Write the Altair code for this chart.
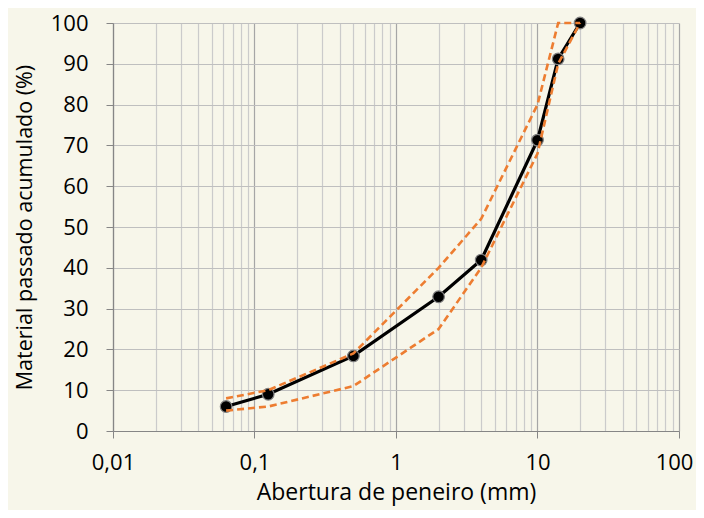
import altair as alt
import pandas as pd

# Sieve openings (mm) and cumulative passing (%)
sieve = [0.063, 0.125, 0.5, 2, 4, 10, 14, 20]
passed = [6.0, 9.0, 18.4, 32.9, 41.9, 71.3, 91.2, 100.0]
# Grading envelope limits (%)
upper = [8, 10, 19, 40, 52, 80, 100, 100]
lower = [5, 6, 11, 25, 40, 68, 90, 100]

decades = [0.01, 0.1, 1, 10, 100]
x_ticks = [round(d * m, 6) for d in decades[:-1] for m in range(1, 10)] + [100]
y_ticks = list(range(0, 101, 10))

FONT = "Open Sans"
BG = "#f7f6ea"

df_main = pd.DataFrame({"x": sieve, "y": passed})
df_env = pd.DataFrame({
    "x": sieve + sieve,
    "y": upper + lower,
    "s": ["upper"] * len(sieve) + ["lower"] * len(sieve),
})

is_decade = "abs(log(datum.value)/LN10 - round(log(datum.value)/LN10)) < 1e-6"

x_scale = alt.Scale(type="log", domain=[0.01, 100], nice=False)
y_scale = alt.Scale(domain=[0, 100], nice=False)

x_axis = alt.Axis(
    values=x_ticks,
    labelExpr=f"({is_decade}) ? replace(format(datum.value, ''), '.', ',') : ''",
    labelFlush=False,
    labelOverlap=False,
    labelOffset={"condition": {"test": "datum.value >= 100", "value": -5}, "value": 0},
    gridColor={"condition": {"test": is_decade, "value": "#a6a6a6"}, "value": "#cbcbcb"},
    gridWidth=1.2,
    tickColor={"condition": {"test": is_decade, "value": "#868686"}, "value": "transparent"},
    tickSize=7,
    domainColor="#868686",
    domainWidth=1.2,
    labelFont=FONT, labelFontSize=22, labelColor="#000000", labelPadding=14,
    title="Abertura de peneiro (mm)",
    titleFont=FONT, titleFontSize=23, titleFontWeight="normal", titleColor="#000000",
    titlePadding=8,
)

y_axis = alt.Axis(
    values=y_ticks,
    gridColor="#bfbfbf",
    gridWidth=1.2,
    tickColor="#868686",
    tickSize=7,
    domainColor="#868686",
    domainWidth=1.2,
    labelFont=FONT, labelFontSize=22, labelColor="#000000", labelPadding=18,
    title="Material passado acumulado (%)",
    titleFont=FONT, titleFontSize=21.5, titleFontWeight="normal", titleColor="#000000",
    titlePadding=14,
)

main_line = alt.Chart(df_main).mark_line(color="#000000", strokeWidth=3.2).encode(
    x=alt.X("x:Q", scale=x_scale, axis=x_axis),
    y=alt.Y("y:Q", scale=y_scale, axis=y_axis),
)

main_pts = alt.Chart(df_main).mark_point(
    filled=True, color="#000000", size=135, opacity=1,
    stroke="#808080", strokeWidth=1.2,
).encode(
    x=alt.X("x:Q", scale=x_scale),
    y=alt.Y("y:Q", scale=y_scale),
)

env = alt.Chart(df_env).mark_line(
    color="#ED7D31", strokeWidth=2.6, strokeDash=[7, 4]
).encode(
    x=alt.X("x:Q", scale=x_scale),
    y=alt.Y("y:Q", scale=y_scale),
    detail="s:N",
)

chart = alt.layer(main_line, main_pts, env).properties(
    width=566,
    height=408,
    autosize=alt.AutoSizeParams(type="none"),
    padding={"left": 105, "top": 15, "right": 17, "bottom": 79},
    background=BG,
).configure_view(stroke=None)

chart.save("out.html", embed_options={"renderer": "svg", "actions": False})
